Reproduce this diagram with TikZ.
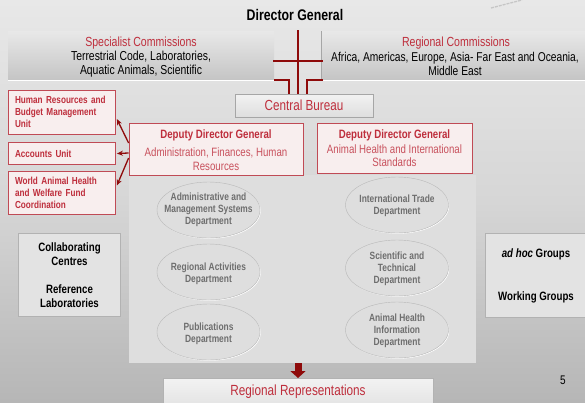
\documentclass[tikz,border=0pt]{standalone}
\usepackage{fontspec}
\setmainfont{Liberation Sans}[FakeStretch=0.80]
\usetikzlibrary{arrows.meta,shapes.geometric,calc}
\definecolor{bgtop}{HTML}{E8E8E8}
\definecolor{bgmid}{HTML}{D6D6D6}
\definecolor{bgbot}{HTML}{B6B6B6}
\definecolor{dred}{HTML}{8E0A0A}
\definecolor{tred}{HTML}{BE2E3C}
\definecolor{lred}{HTML}{C8505C}
\definecolor{pinkfill}{HTML}{F8EEEE}
\definecolor{pinkline}{HTML}{C04A55}
\definecolor{deptgray}{HTML}{6E6E6E}
\definecolor{panel}{HTML}{DEDEDE}
\colorlet{boxbot}{black!23}
\colorlet{sidefill}{black!11}
\tikzset{
  fs/.style={font=\fontsize{#1}{#1}\selectfont},
  fsb/.style={font=\fontsize{#1}{#1}\selectfont\bfseries},
  conn/.style={draw=dred, line width=2pt},
  arr/.style={draw=dred, line width=1.3pt, -{Stealth[length=6pt,width=5pt]}},
  unitbox/.style={draw=pinkline, line width=0.8pt, fill=pinkfill, text=tred, align=left,
    inner xsep=6pt, minimum width=107pt, text width=94pt, font=\fontsize{10.2}{12}\selectfont\bfseries},
  ddgbox/.style={draw=pinkline, line width=0.8pt, fill=pinkfill, inner sep=0pt},
  dept/.style={ellipse, draw=gray!55, fill=panel, minimum width=103pt, minimum height=56pt, inner sep=0pt},
  depttext/.style={text=deptgray, align=center, font=\fontsize{10.5}{12}\selectfont\bfseries},
  commbox/.style={top color=bgtop, bottom color=boxbot, inner sep=0pt, anchor=north west},
  sidebox/.style={fill=sidefill, draw=gray!60, inner sep=0pt, anchor=north west},
  blk/.style={align=center, font=\fontsize{12.1}{14.5}\selectfont\bfseries}
}
\begin{document}
\begin{tikzpicture}[x=1pt,y=-1pt]
\clip (0,0) rectangle (585,402);
\shade[top color=bgtop, bottom color=bgbot, middle color=bgmid] (0,0) rectangle (585,402);
\draw[gray!45, dash pattern=on 3pt off 1pt, line width=1.3pt] (491,8) -- (522,0);

% Director General
\node[fsb=15.4] (dg) at (295,15) {Director General};

% Commissions
\node[commbox, minimum width=266pt, minimum height=49pt] (spec) at (8,31) {};
\node[fs=13.2, text=tred] (spect) at (141,43) {Specialist Commissions};
\node[align=center, font=\fontsize{13}{14}\selectfont] (specl) at (141,64) {Terrestrial Code, Laboratories,\\Aquatic Animals, Scientific};
\node[commbox, minimum width=264pt, minimum height=49pt] (reg) at (321,31) {};
\draw[gray!70] (reg.north west) -- (reg.south west);
\node[fs=13.2, text=tred] (regt) at (456,43) {Regional Commissions};
\node[align=center, font=\fontsize{12.8}{14}\selectfont] (regl) at (455,64) {Africa, Americas, Europe, Asia- Far East and Oceania,\\Middle East};
\draw[white, line width=0.8pt] (spec.south west) -- (spec.south east);
\draw[white, line width=0.8pt] (reg.south west) -- (reg.south east);

% Central Bureau
\node[draw=gray!70, top color=black!5, bottom color=black!13, minimum width=138pt, minimum height=23pt, inner sep=0pt,
      text=tred, fs=14.6] (cb) at (304,105.5) {Central Bureau};

% connectors at top
\coordinate (top) at (298,30);
\coordinate (cl) at (289,94);
\coordinate (cr) at (307,94);
\draw[conn] (top) -- (top |- cb.north);
\draw[conn] ($(spec.north east)+(-1,30)$) -- ($(reg.north west)+(2,30)$);
\draw[conn] (spec.south east) -| (cl);
\draw[conn] ($(reg.south west)+(2,0)$) -| (cr);

% Panel
\fill[panel] (129,175) rectangle (476,363);

% Deputy Director Generals
\node[ddgbox, minimum width=174pt, minimum height=52pt] (ddgl) at (216,149) {};
\node[fsb=12.1, text=tred] (ddglt) at (216,135) {Deputy Director General};
\node[align=center, text=lred, font=\fontsize{12.1}{14}\selectfont] (ddgls) at (216,159) {Administration, Finances, Human\\Resources};
\node[ddgbox, minimum width=155pt, minimum height=50pt] (ddgr) at (394.5,148) {};
\node[fsb=12.1, text=tred] (ddgrt) at (394.5,135) {Deputy Director General};
\node[align=center, text=lred, font=\fontsize{12.1}{13}\selectfont] (ddgrs) at (394.5,155.5) {Animal Health and International\\Standards};

% Units
\node[unitbox, minimum height=44pt] (hr) at (62,112) {Human Resources and\\Budget Management\\Unit};
\node[unitbox, minimum height=22pt] (acc) at (62,153.5) {Accounts Unit};
\node[unitbox, minimum height=43pt] (wah) at (62,192.5) {World Animal Health\\and Welfare Fund\\Coordination};
\draw[arr] ($(ddgl.west)+(0,-6)$) -- ($(hr.east)+(1,7)$);
\draw[arr] ($(ddgl.west)+(0,4)$) -- ($(acc.east)+(1,0)$);
\draw[arr] ($(ddgl.west)+(0,9)$) -- ($(wah.east)+(1,-7)$);

% Departments
\foreach \cx/\cy in {208.5/210, 208.5/272, 208.5/332, 397/205, 397/268, 397/330}
  \draw[white, line width=0.8pt] (\cx+0.8,\cy+0.8) ellipse (51 and 27.5);
\node[dept] (d1) at (208.5,210) {};
\node[depttext] (d1t) at (d1) {Administrative and\\Management Systems\\Department};
\node[dept] (d2) at (208.5,272) {};
\node[depttext] (d2t) at (208.5,273.5) {Regional Activities\\Department};
\node[dept] (d3) at (208.5,332) {};
\node[depttext] (d3t) at (208.5,333.5) {Publications\\Department};
\node[dept] (d4) at (397,205) {};
\node[depttext] (d4t) at (397,205.5) {International Trade\\Department};
\node[dept] (d5) at (397,268) {};
\node[depttext] (d5t) at (397,268.5) {Scientific and\\Technical\\Department};
\node[dept] (d6) at (397,330) {};
\node[depttext] (d6t) at (397,330.5) {Animal Health\\Information\\Department};

% Side boxes
\node[sidebox, minimum width=102pt, minimum height=83pt] (collab) at (18,233) {};
\node[blk] (collabt) at (69.5,254) {Collaborating\\Centres};
\node[blk] (reflab) at (69.5,296) {Reference\\Laboratories};
\node[sidebox, minimum width=102pt, minimum height=84pt] (adhoc) at (485,233) {};
\node[fsb=12.1] (adhoct) at (536,254.5) {\textit{ad hoc} Groups};
\node[fsb=12.1] (wg) at (536,297.5) {Working Groups};

% Regional Representations
\node[draw=gray!60, top color=white!95!black, bottom color=black!12, minimum width=270pt, minimum height=34pt,
      inner sep=0pt, anchor=north] (rr) at (298,378) {};
\node[fs=14.7, text=tred] (rrt) at (298,392) {Regional Representations};
\draw[dred, line width=7pt, -{Triangle[length=7pt,width=15pt]}] (298,363) -- (rr.north);

% page number
\node[fs=12.5] (pn) at (563,380) {5};
\end{tikzpicture}
\end{document}
